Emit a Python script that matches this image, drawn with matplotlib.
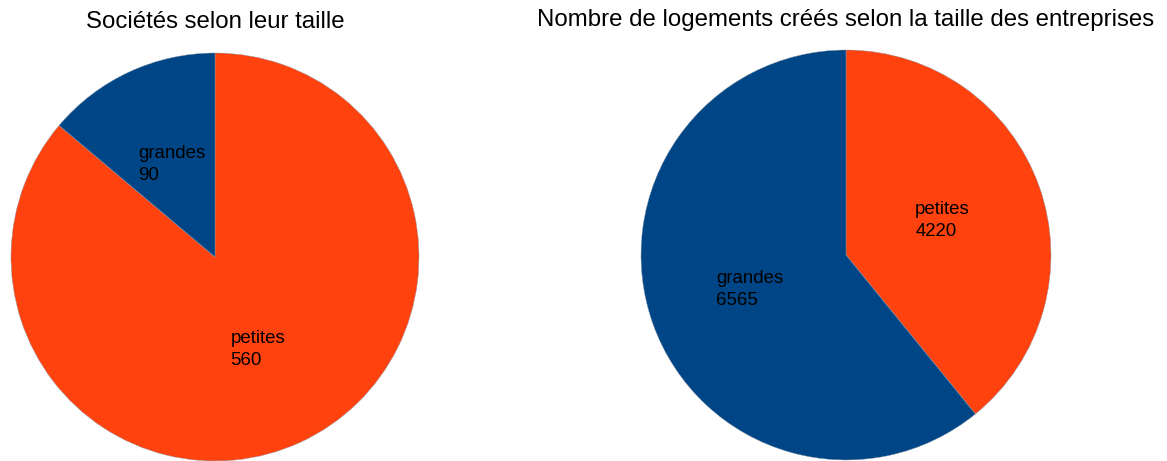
import matplotlib
matplotlib.use("Agg")
import numpy as np
import matplotlib.pyplot as plt

plt.rcParams['font.family'] = ['Liberation Sans', 'DejaVu Sans']

categories = ['petites', 'grandes']
societes = [560, 90]
logements = [4220, 6565]
titles = ['Sociétés selon leur taille',
          'Nombre de logements créés selon la taille des entreprises']
colors = ['#FF420E', '#004586']

W, H = 1167, 461
fig = plt.figure(figsize=(W / 100, H / 100), dpi=100)

# (center x, center y from top, radius) in pixels
layout = [(215, 257, 204), (846, 255, 205)]
title_y = [22, 20]

for vals, title, (cx, cy, r), ty in zip([societes, logements], titles, layout, title_y):
    ax = fig.add_axes([(cx - r) / W, (H - cy - r) / H, 2 * r / W, 2 * r / H])
    labels = [f"{c}\n{v}" for c, v in zip(categories, vals)]
    wedges, texts = ax.pie(vals, labels=labels, colors=colors, startangle=90,
                           counterclock=False, labeldistance=0.5, radius=1,
                           wedgeprops=dict(linewidth=0.3, edgecolor='#8899aa'),
                           textprops=dict(fontsize=13.4, color='black',
                                          linespacing=1.4))
    for t in texts:
        t.set_ha('center')
        t.set_va('center')
        t.set_multialignment('left')
    ax.set_xlim(-1, 1)
    ax.set_ylim(-1, 1)
    ax.set_aspect('equal')
    ax.axis('off')
    fig.text(cx / W, 1 - ty / H, title, ha='center', va='center', fontsize=17.3)

fig.savefig('out.png', dpi=100)
